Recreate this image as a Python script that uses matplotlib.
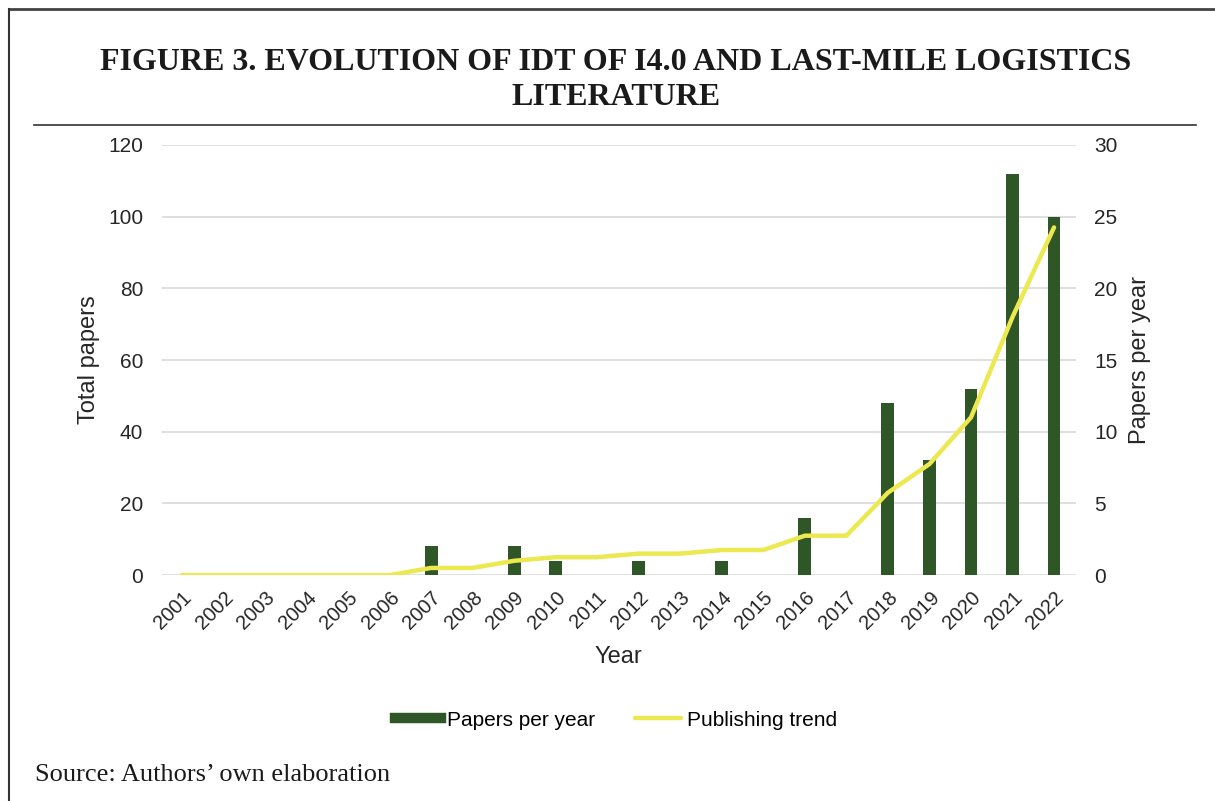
import matplotlib.pyplot as plt
from matplotlib.lines import Line2D

plt.rcParams['font.family'] = ['Liberation Sans', 'DejaVu Sans']

# data
years = [str(y) for y in range(2001, 2023)]
papers_per_year = [0, 0, 0, 0, 0, 0, 2, 0, 2, 1, 0, 1, 0, 1, 0, 4, 0, 12, 8, 13, 28, 25]
total_papers = [0, 0, 0, 0, 0, 0, 2, 2, 4, 5, 5, 6, 6, 7, 7, 11, 11, 23, 31, 44, 72, 97]

bar_color = '#2E5626'
line_color = '#ECE84F'
grid_color = '#D9D9D9'
text_color = '#262626'

fig = plt.figure(figsize=(12.15, 8.01), dpi=100)

# bars go on the primary axes (right-hand scale), line on the twin so it sits on top
ax = fig.add_axes([0.1333, 0.282, 0.752, 0.537])
x = range(len(years))
ax.bar(x, papers_per_year, width=0.31, color=bar_color, zorder=2)
ax.set_ylim(0, 30)
ax.set_yticks(range(0, 31, 5))
ax.set_xlim(-0.48, 21.52)
ax.set_xticks(list(x))
ax.set_xticklabels(years, rotation=45, ha='right', rotation_mode='anchor',
                   fontsize=14.5, color=text_color)
ax.grid(axis='y', color=grid_color, linewidth=1.2, zorder=0)
for s in ax.spines.values():
    s.set_visible(False)
ax.set_xlabel('Year', fontsize=17, color=text_color, labelpad=10)

ax2 = ax.twinx()
ax2.plot(list(x), total_papers, color=line_color, linewidth=3.2, solid_capstyle='round', zorder=3)
ax2.set_ylim(0, 120)
ax2.set_yticks(range(0, 121, 20))
for s in ax2.spines.values():
    s.set_visible(False)

# twinx moves the original ticks to the left, so swap the sides after it
ax.yaxis.tick_right()
ax.yaxis.set_label_position('right')
ax2.yaxis.tick_left()
ax2.yaxis.set_label_position('left')
ax.tick_params(axis='both', length=0, colors=text_color)
ax.tick_params(axis='y', labelsize=15, pad=13.5)
ax.tick_params(axis='x', pad=9)
ax2.tick_params(axis='y', length=0, labelsize=15, colors=text_color, pad=13.5)
ax.set_ylabel('Papers per year', fontsize=17, color=text_color, labelpad=8)
ax2.set_ylabel('Total papers', fontsize=17, color=text_color, labelpad=6)

# legend
handles = [Line2D([0], [0], color=bar_color, linewidth=7.5),
           Line2D([0], [0], color=line_color, linewidth=3.2, solid_capstyle='round')]
fig.legend(handles, ['Papers per year', 'Publishing trend'], loc='center',
           bbox_to_anchor=(0.507, 0.101), ncol=2, frameon=False, fontsize=15,
           handlelength=2.2, columnspacing=1.9, handletextpad=0.3)

# title, rules and source note
fig.text(0.507, 0.9, 'FIGURE 3. EVOLUTION OF IDT OF I4.0 AND LAST-MILE LOGISTICS\nLITERATURE',
         ha='center', va='center', family='Liberation Serif', weight='bold',
         fontsize=23, linespacing=1.3, color='#1a1a1a')
fig.add_artist(Line2D([0.028, 0.984], [0.844, 0.844], color='#333333', linewidth=1.2))
fig.add_artist(Line2D([0.0075, 1.0], [0.989, 0.989], color='#444444', linewidth=2))
fig.add_artist(Line2D([0.0075, 0.0075], [0.0, 0.989], color='#333333', linewidth=1.5))
fig.text(0.029, 0.032, 'Source: Authors\u2019 own elaboration', ha='left', va='center',
         family='Liberation Serif', fontsize=19, color='#1a1a1a')

fig.savefig('out.png', dpi=100)
